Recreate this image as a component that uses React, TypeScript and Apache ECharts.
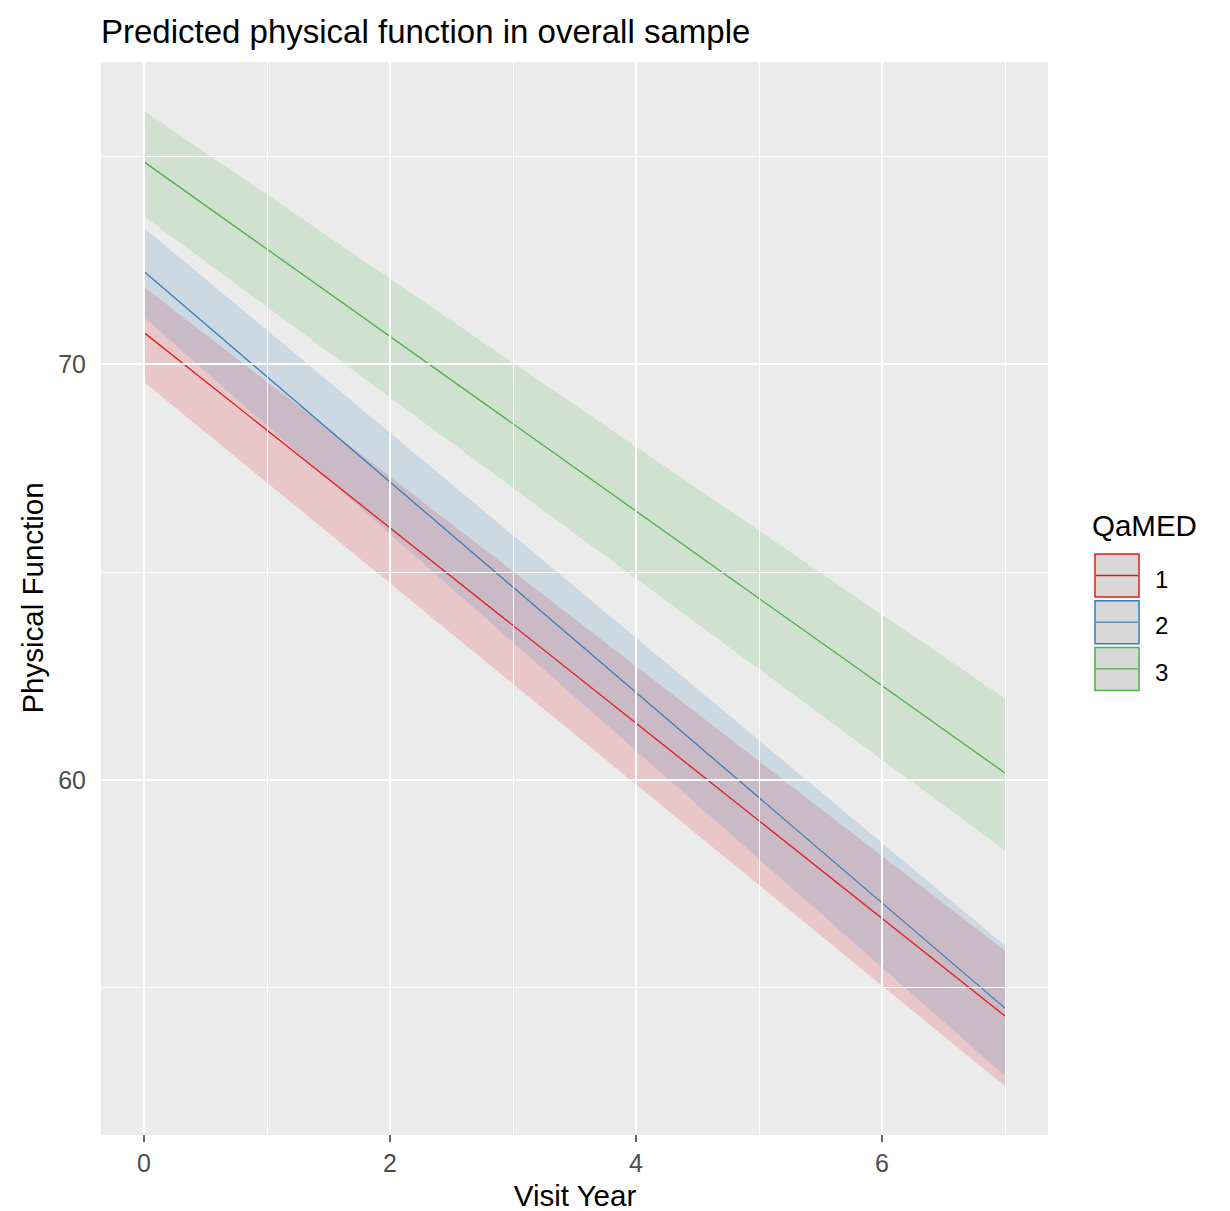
import React, { useEffect, useRef } from "react";
import * as echarts from "echarts";

// ---- data ----
const groups = ["1", "2", "3"];
const groupColors = ["#E41A1C", "#377EB8", "#4DAF4A"];
const years = [0, 7];
const fit1 = [70.76, 54.31];
const lo1 = [69.57, 52.62];
const hi1 = [71.86, 55.88];
const fit2 = [72.23, 54.5];
const lo2 = [71.13, 52.87];
const hi2 = [73.28, 56.01];
const fit3 = [74.87, 60.16];
const lo3 = [73.56, 58.3];
const hi3 = [76.1, 61.95];
const xTicks = [0, 2, 4, 6];
const xMinor = [1, 3, 5, 7];
const yTicks = [60, 70];
const yMinor = [55, 65, 75];

const fits = [fit1, fit2, fit3];
const los = [lo1, lo2, lo3];
const his = [hi1, hi2, hi3];

const FONT = "'Liberation Sans', Arial, sans-serif";

export default function App() {
  const ref = useRef<HTMLDivElement>(null);
  useEffect(() => {
    document.body.style.margin = "0";
    const chart = echarts.init(ref.current!, null, { renderer: "svg" });

    const allLo = Math.min(...los.flat());
    const allHi = Math.max(...his.flat());
    const yPad = (allHi - allLo) * 0.05;
    const xPad = (years[years.length - 1] - years[0]) * 0.05;

    const gridLines = {
      type: "line",
      data: [[years[0], fit1[0]]],
      showSymbol: false,
      lineStyle: { width: 0, opacity: 0 },
      silent: true,
      z: 1,
      markLine: {
        silent: true,
        symbol: ["none", "none"],
        label: { show: false },
        emphasis: { disabled: true },
        animation: false,
        data: [
          ...xMinor.map((v) => ({ xAxis: v, lineStyle: { color: "#FFFFFF", width: 1, type: "solid" } })),
          ...yMinor.map((v) => ({ yAxis: v, lineStyle: { color: "#FFFFFF", width: 1, type: "solid" } })),
          ...xTicks.map((v) => ({ xAxis: v, lineStyle: { color: "#FFFFFF", width: 2, type: "solid" } })),
          ...yTicks.map((v) => ({ yAxis: v, lineStyle: { color: "#FFFFFF", width: 2, type: "solid" } })),
        ],
      },
    };

    const bands = groups.map((g, gi) => ({
      type: "custom",
      name: "band" + g,
      z: 2,
      silent: true,
      data: [[years[0], fits[gi][0]]],
      renderItem: (params: any, api: any) => {
        const pts: number[][] = [];
        for (let i = 0; i < years.length; i++) pts.push(api.coord([years[i], his[gi][i]]));
        for (let i = years.length - 1; i >= 0; i--) pts.push(api.coord([years[i], los[gi][i]]));
        return {
          type: "polygon",
          shape: { points: pts },
          style: { fill: groupColors[gi], opacity: 0.17 },
        };
      },
    }));

    const lines = groups.map((g, gi) => ({
      type: "line",
      name: g,
      z: 3,
      data: years.map((x, i) => [x, fits[gi][i]]),
      showSymbol: false,
      silent: true,
      lineStyle: { color: groupColors[gi], width: 1.3 },
    }));

    const legendTop = 554;
    const legendStep = 46.7;
    const legendGraphics: any[] = [];
    groups.forEach((g, gi) => {
      const y = legendTop + gi * legendStep;
      legendGraphics.push({
        type: "rect",
        shape: { x: 1095, y, width: 44, height: 43 },
        style: { fill: "#D8D8D8", stroke: groupColors[gi], lineWidth: 1.5 },
      });
      legendGraphics.push({
        type: "line",
        shape: { x1: 1096, y1: y + 21.5, x2: 1138, y2: y + 21.5 },
        style: { stroke: groupColors[gi], lineWidth: 1.3 },
      });
      legendGraphics.push({
        type: "text",
        x: 1155,
        y: y + 25,
        style: { text: g, fontSize: 24, fontFamily: FONT, fill: "#000000", verticalAlign: "middle", align: "left" },
      });
    });

    chart.setOption({
      animation: false,
      backgroundColor: "#FFFFFF",
      grid: {
        left: 101,
        right: 182,
        top: 62,
        bottom: 76,
        show: true,
        backgroundColor: "#EBEBEB",
        borderWidth: 0,
      },
      xAxis: {
        type: "value",
        min: years[0] - xPad,
        max: years[years.length - 1] + xPad,
        axisLine: { show: false },
        splitLine: { show: false },
        axisTick: { show: true, customValues: xTicks, length: 7, lineStyle: { color: "#333333", width: 1.5 } },
        axisLabel: { customValues: xTicks, margin: 15, fontSize: 25, color: "#4D4D4D", fontFamily: FONT },
      },
      yAxis: {
        type: "value",
        min: allLo - yPad,
        max: allHi + yPad,
        axisLine: { show: false },
        splitLine: { show: false },
        axisTick: { show: true, customValues: yTicks, length: 7, lineStyle: { color: "#333333", width: 1.5 } },
        axisLabel: { customValues: yTicks, margin: 15, fontSize: 25, color: "#4D4D4D", fontFamily: FONT },
      },
      graphic: [
        {
          type: "text",
          x: 101,
          y: 31,
          style: {
            text: "Predicted physical function in overall sample",
            fontSize: 33,
            fontFamily: FONT,
            fill: "#000000",
            verticalAlign: "middle",
            align: "left",
          },
        },
        {
          type: "text",
          x: 575,
          y: 1195,
          style: { text: "Visit Year", fontSize: 29.5, fontFamily: FONT, fill: "#000000", align: "center", verticalAlign: "middle" },
        },
        {
          type: "text",
          x: 32,
          y: 598,
          rotation: Math.PI / 2,
          style: { text: "Physical Function", fontSize: 29.5, fontFamily: FONT, fill: "#000000", align: "center", verticalAlign: "middle" },
        },
        {
          type: "text",
          x: 1092,
          y: 525,
          style: { text: "QaMED", fontSize: 29.5, fontFamily: FONT, fill: "#000000", align: "left", verticalAlign: "middle" },
        },
        ...legendGraphics,
      ],
      series: [gridLines, ...bands, ...lines],
    });
    return () => chart.dispose();
  }, []);
  return <div ref={ref} style={{ width: 1230, height: 1211 }} />;
}
